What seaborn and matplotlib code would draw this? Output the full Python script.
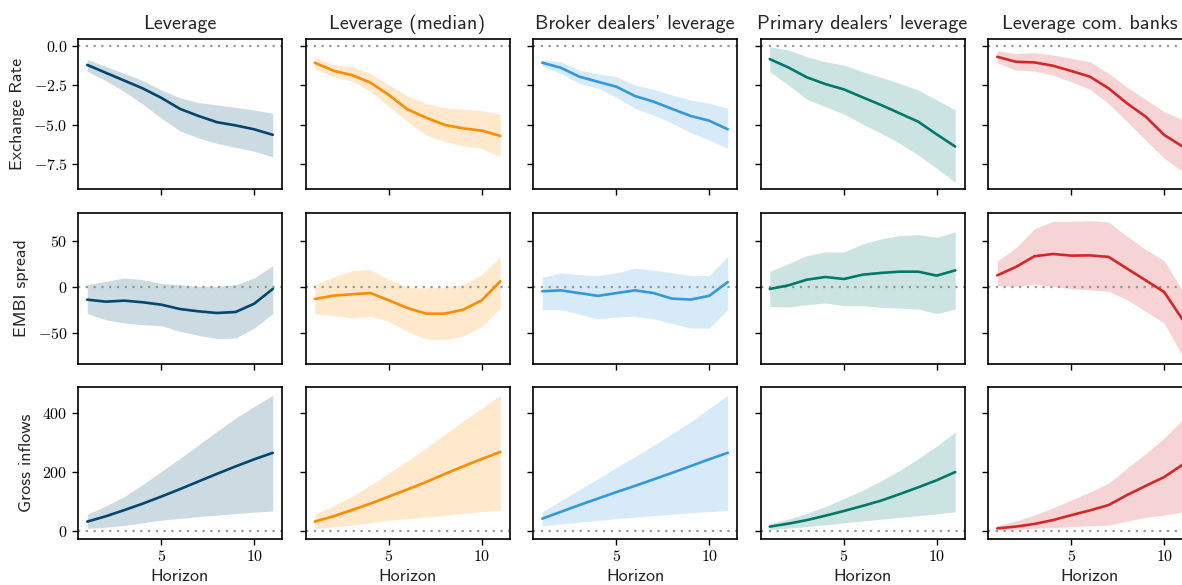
import numpy as np
import pandas as pd
import matplotlib
matplotlib.use("Agg")
import matplotlib.pyplot as plt
import seaborn as sns

# Horizons of the impulse responses
horizon = list(range(1, 12))

shocks = ["Leverage", "Leverage (median)", "Broker dealers' leverage",
          "Primary dealers' leverage", "Leverage com. banks"]
responses = ["Exchange Rate", "EMBI spread", "Gross inflows"]
colors = ["#03466e", "#ff8c00", "#3498db", "#00796b", "#d62728"]

# ---- Exchange rate: point estimate, upper and lower bands per shock ----
fx_mid = [
    [-1.2, -1.7, -2.2, -2.7, -3.3, -4.0, -4.45, -4.85, -5.05, -5.3, -5.65],
    [-1.06, -1.57, -1.85, -2.33, -3.12, -4.03, -4.56, -5.02, -5.24, -5.38, -5.72],
    [-1.06, -1.38, -1.95, -2.27, -2.59, -3.18, -3.54, -4.0, -4.45, -4.75, -5.3],
    [-0.83, -1.36, -1.99, -2.42, -2.76, -3.26, -3.75, -4.28, -4.81, -5.62, -6.4],
    [-0.68, -1.0, -1.04, -1.25, -1.59, -1.95, -2.69, -3.65, -4.49, -5.66, -6.4],
]
fx_hi = [
    [-0.85, -1.3, -1.75, -2.2, -2.8, -3.3, -3.6, -3.75, -3.9, -4.07, -4.28],
    [-0.74, -1.17, -1.31, -1.74, -2.48, -3.18, -3.65, -3.92, -4.03, -4.11, -4.35],
    [-0.89, -1.0, -1.53, -1.78, -1.95, -2.48, -2.76, -3.12, -3.43, -3.65, -3.96],
    [-0.04, -0.25, -0.68, -1.0, -1.21, -1.63, -1.99, -2.37, -2.8, -3.43, -4.07],
    [-0.3, -0.47, -0.42, -0.57, -0.78, -1.0, -1.74, -2.63, -3.39, -4.18, -4.7],
]
fx_lo = [
    [-1.6, -2.2, -2.9, -3.7, -4.6, -5.4, -5.85, -6.2, -6.45, -6.7, -7.05],
    [-1.42, -1.95, -2.23, -2.9, -3.86, -4.81, -5.66, -6.08, -6.36, -6.51, -7.04],
    [-1.27, -1.74, -2.37, -2.69, -3.26, -3.96, -4.39, -4.92, -5.51, -5.98, -6.51],
    [-1.63, -2.48, -3.39, -3.86, -4.33, -4.96, -5.55, -6.19, -6.93, -7.78, -8.67],
    [-1.06, -1.53, -1.59, -1.85, -2.27, -2.76, -3.65, -4.81, -5.98, -7.14, -8.0],
]

# ---- EMBI spread ----
embi_mid = [
    [-14.1, -16.3, -15.2, -17.0, -19.6, -24.3, -26.8, -28.6, -27.5, -18.5, -2.5],
    [-13.4, -9.8, -8.3, -6.9, -14.9, -23.2, -29.3, -29.3, -25.0, -14.9, 5.8],
    [-5.0, -4.0, -7.0, -10.0, -7.0, -4.0, -7.0, -13.0, -14.0, -10.0, 5.0],
    [-2.5, 1.4, 7.6, 10.5, 8.3, 13.0, 14.9, 16.3, 16.3, 12.0, 17.7],
    [12.3, 21.4, 33.0, 35.5, 33.7, 34.0, 32.3, 19.6, 6.9, -5.8, -36.0],
]
embi_hi = [
    [2.2, 5.8, 9.4, 7.6, 3.3, 2.2, 0.4, 0.4, 2.2, 9.4, 22.8],
    [2.2, 10.5, 17.4, 18.5, 7.6, -0.4, -1.4, -0.4, 2.2, 13.0, 32.3],
    [10.0, 15.0, 13.0, 12.0, 15.0, 20.0, 18.0, 15.0, 12.0, 12.0, 33.0],
    [16.6, 25.0, 33.7, 37.7, 37.7, 46.4, 51.8, 55.4, 56.5, 53.6, 59.5],
    [27.5, 42.1, 62.7, 71.0, 71.0, 71.7, 70.3, 54.7, 40.2, 28.3, -5.0],
]
embi_lo = [
    [-29.3, -35.9, -39.5, -41.3, -42.4, -48.6, -52.9, -56.5, -55.8, -44.9, -29.3],
    [-29.3, -31.5, -34.1, -32.2, -37.7, -48.6, -56.9, -57.6, -54.0, -43.1, -23.2],
    [-25.0, -25.0, -30.0, -35.0, -33.0, -32.0, -35.0, -40.0, -45.0, -45.0, -25.0],
    [-21.4, -22.1, -19.6, -17.7, -20.6, -20.6, -22.5, -23.2, -24.3, -29.3, -24.3],
    [1.1, 0.4, 2.9, 0.4, -2.2, -3.3, -5.1, -14.1, -26.8, -39.5, -76.0],
]

# ---- Gross inflows ----
gi_mid = [
    [32, 50, 71, 93, 117, 142, 168, 194, 219, 243, 265],
    [32, 50, 71, 93, 117, 141, 166, 193, 219, 244, 268],
    [42, 65, 88, 110, 132, 153, 175, 197, 220, 243, 265],
    [15, 25, 37, 52, 68, 85, 103, 125, 148, 172, 200],
    [9, 15, 24, 37, 54, 70, 88, 122, 153, 183, 225],
]
gi_hi = [
    [57, 85, 117, 158, 202, 246, 292, 338, 383, 422, 460],
    [57, 85, 117, 155, 196, 238, 281, 327, 372, 416, 460],
    [65, 102, 140, 177, 215, 252, 290, 330, 370, 415, 460],
    [25, 40, 60, 83, 110, 138, 170, 205, 245, 288, 335],
    [18, 34, 54, 78, 105, 132, 162, 213, 262, 315, 378],
]
gi_lo = [
    [9, 13, 19, 28, 37, 43, 49, 54, 59, 64, 68],
    [9, 14, 20, 28, 37, 42, 47, 53, 60, 66, 71],
    [18, 24, 30, 36, 42, 47, 52, 57, 62, 66, 70],
    [5, 10, 15, 21, 28, 34, 40, 46, 52, 58, 65],
    [3, 6, 9, 12, 15, 18, 20, 34, 47, 54, 65],
]

mids = [fx_mid, embi_mid, gi_mid]
his = [fx_hi, embi_hi, gi_hi]
los = [fx_lo, embi_lo, gi_lo]
ylims = [(-9.1, 0.45), (-84, 80), (-27, 488)]
yticks = [[0.0, -2.5, -5.0, -7.5], [50, 0, -50], [400, 200, 0]]

sns.set_style("ticks")
plt.rcParams.update({
    "font.family": "cmr10",
    "mathtext.fontset": "cm",
    "axes.formatter.use_mathtext": True,
    "axes.unicode_minus": True,
    "axes.edgecolor": "black",
    "axes.linewidth": 1.2,
    "xtick.color": "black",
    "ytick.color": "black",
    "xtick.major.size": 4,
    "ytick.major.size": 4,
    "xtick.major.width": 1.0,
    "ytick.major.width": 1.0,
    "xtick.labelsize": 11.5,
    "ytick.labelsize": 11.5,
})
SANS = "cmss10"

W, H = 1182, 585
fig = plt.figure(figsize=(W / 100, H / 100), dpi=100)

col_left = [78 + 227.5 * c for c in range(5)]
col_w = 204
row_top = [39, 213, 387]
row_bot = [189, 364, 539]

for r in range(3):
    for c in range(5):
        ax = fig.add_axes([col_left[c] / W, 1 - row_bot[r] / H,
                           col_w / W, (row_bot[r] - row_top[r]) / H])
        df = pd.DataFrame({"h": horizon, "mid": mids[r][c],
                           "hi": his[r][c], "lo": los[r][c]})
        ax.fill_between(df["h"], df["lo"], df["hi"], color=colors[c],
                        alpha=0.2, linewidth=0)
        sns.lineplot(data=df, x="h", y="mid", ax=ax, color=colors[c],
                     linewidth=1.9)
        ax.axhline(0, color="#999999", linestyle=(0, (1, 2.5)), linewidth=1.6,
                   zorder=1)
        ax.set_xlim(0.5, 11.5)
        ax.set_ylim(*ylims[r])
        ax.set_xticks([5, 10])
        ax.set_yticks(yticks[r])
        for s in ax.spines.values():
            s.set_visible(True)
            s.set_color("black")
        ax.set_xlabel("")
        ax.set_ylabel("")
        if r == 0:
            ax.set_title(shocks[c], fontfamily=SANS, fontsize=14.5, pad=7)
        if r == 2:
            ax.set_xlabel("Horizon", fontfamily=SANS, fontsize=13,
                          labelpad=3)
        else:
            ax.tick_params(axis="x", labelbottom=False)
        if c == 0:
            ax.set_ylabel(responses[r], fontfamily=SANS, fontsize=13,
                          labelpad=6)
            if r == 0:
                ax.yaxis.set_major_formatter(
                    matplotlib.ticker.FormatStrFormatter("$%.1f$"))
            else:
                ax.yaxis.set_major_formatter(
                    matplotlib.ticker.FormatStrFormatter("$%d$"))
        else:
            ax.tick_params(axis="y", labelleft=False)
        ax.xaxis.set_major_formatter(
            matplotlib.ticker.FormatStrFormatter("$%d$"))

fig.savefig("out.png", dpi=100)
